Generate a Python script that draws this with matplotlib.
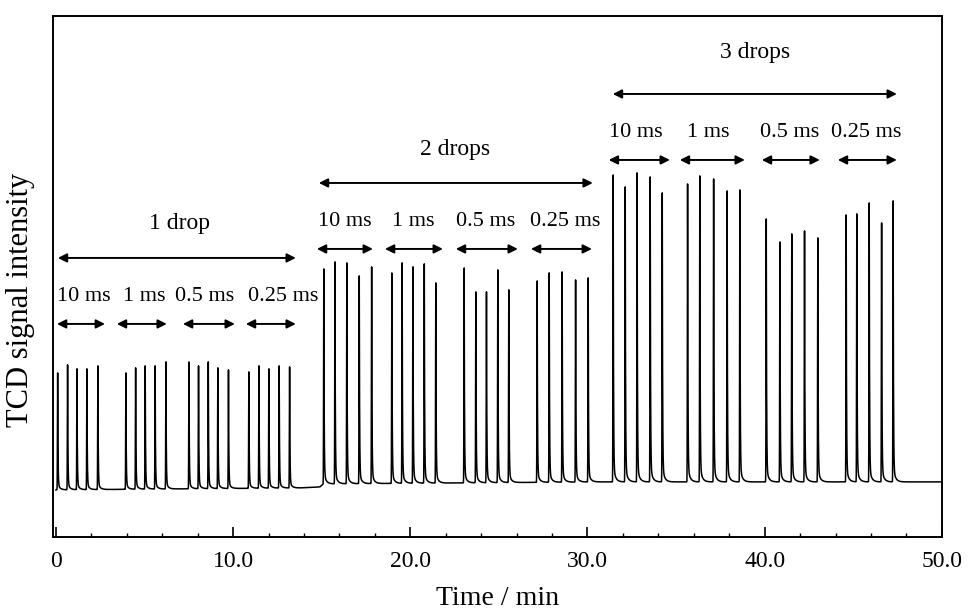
import numpy as np
import matplotlib
matplotlib.use("Agg")
import matplotlib.pyplot as plt
from matplotlib.ticker import MultipleLocator

plt.rcParams['font.family'] = ['Liberation Serif', 'DejaVu Serif']

# peak retention times (min) and apex signal (a.u.)
times_1drop = [0.10, 0.66, 1.19, 1.75, 2.37, 3.95, 4.50, 5.04, 5.60, 6.21,
               7.51, 8.05, 8.60, 9.14, 9.74, 10.89, 11.46, 12.02, 12.60, 13.19]
apex_1drop = [117, 125, 121, 121, 124, 117, 122, 124, 124, 128,
              128, 124, 128, 122, 120, 118, 124, 121, 124, 123]
times_2drops = [15.12, 15.75, 16.42, 17.12, 17.82, 18.96, 19.54, 20.15, 20.79, 21.44,
                23.04, 23.70, 24.30, 24.94, 25.56, 27.16, 27.84, 28.57, 29.33, 30.04]
apex_2drops = [221, 228, 227, 214, 223, 217, 227, 223, 226, 207,
               222, 198, 198, 220, 200, 209, 217, 218, 210, 212]
times_3drops = [31.45, 32.13, 32.80, 33.54, 34.22, 35.65, 36.34, 37.12, 37.88, 38.60,
                40.09, 40.86, 41.53, 42.25, 43.00, 44.60, 45.20, 45.90, 46.60, 47.25]
apex_3drops = [315, 303, 317, 313, 297, 306, 314, 311, 299, 300,
               271, 248, 256, 259, 252, 275, 276, 287, 267, 289]

# baseline drift
base_times = [0, 13.8, 14.9, 15.1, 30.5, 50]
base_levels = [0, 2, 3, 6, 8, 8]

# annotation layout: (label, big arrow span, sub arrow spans, sub label x)
pulse_labels = ['10 ms', '1 ms', '0.5 ms', '0.25 ms']
drop_labels = ['1 drop', '2 drops', '3 drops']
drop_text_x = [7.0, 22.5, 39.45]
drop_text_y = [266, 340, 437]
drop_spans = [(0.11, 13.54), (14.84, 30.30), (31.43, 47.46)]
sub_spans = [
    [(0.06, 2.77), (3.44, 6.26), (7.17, 10.10), (10.72, 13.54)],
    [(14.73, 17.89), (18.57, 21.84), (22.57, 26.07), (26.81, 30.25)],
    [(31.20, 34.65), (35.21, 38.88), (39.84, 43.11), (44.13, 47.46)],
]
sub_label_x = [
    [1.58, 4.97, 8.41, 12.81],
    [16.31, 20.15, 24.27, 28.72],
    [32.73, 36.79, 41.42, 45.71],
]
sub_arrow_y = [166, 241, 330]


def peak(t, t0, amp):
    d = t - t0
    dp = np.clip(d, 0, None)
    rise = np.exp(-0.5 * (d / 0.012) ** 2)
    fall = 0.95 * np.exp(-dp / 0.018) + 0.05 * np.exp(-dp / 0.12)
    return amp * np.where(d < 0, rise, fall)


t = np.linspace(0, 50, 40001)
signal = np.interp(t, base_times, base_levels)
all_times = times_1drop + times_2drops + times_3drops
all_apex = apex_1drop + apex_2drops + apex_3drops
for t0, a in zip(all_times, all_apex):
    signal += peak(t, t0, a - np.interp(t0, base_times, base_levels))

fig = plt.figure(figsize=(9.68, 6.15), dpi=100)
ax = fig.add_axes([0.055, 0.127, 0.918, 0.847])
ax.plot(t, signal, color='black', lw=1.1)

arrow = dict(arrowstyle='<|-|>', color='black', lw=1.4, mutation_scale=13,
             shrinkA=0, shrinkB=0)
for i in range(3):
    ya = sub_arrow_y[i]
    for (x0, x1), lx, lab in zip(sub_spans[i], sub_label_x[i], pulse_labels):
        ax.annotate('', xy=(x1, ya), xytext=(x0, ya), arrowprops=arrow)
        ax.text(lx, ya + 27, lab, ha='center', va='center', fontsize=16)
    x0, x1 = drop_spans[i]
    ax.annotate('', xy=(x1, ya + 66), xytext=(x0, ya + 66), arrowprops=arrow)
    ax.text(drop_text_x[i], drop_text_y[i], drop_labels[i], ha='center', va='center', fontsize=17)

ax.set_xlim(-0.15, 50)
ax.set_ylim(-47, 474)
ax.set_yticks([])
ax.set_xticks([0, 10, 20, 30, 40, 50])
ax.set_xticklabels(['0', '10.0', '20.0', '30.0', '40.0', '50.0'], fontsize=17)
ax.xaxis.set_minor_locator(MultipleLocator(2))
ax.tick_params(axis='x', which='major', direction='in', length=7, width=1.2, pad=10)
ax.tick_params(axis='x', which='minor', direction='in', length=3, width=1)
ax.set_xlabel('Time / min', fontsize=20, labelpad=10)
ax.set_ylabel('TCD signal intensity', fontsize=22)
ax.yaxis.set_label_coords(-0.021, 0.455)
for s in ax.spines.values():
    s.set_linewidth(1.4)

fig.savefig('out.png', dpi=100)
